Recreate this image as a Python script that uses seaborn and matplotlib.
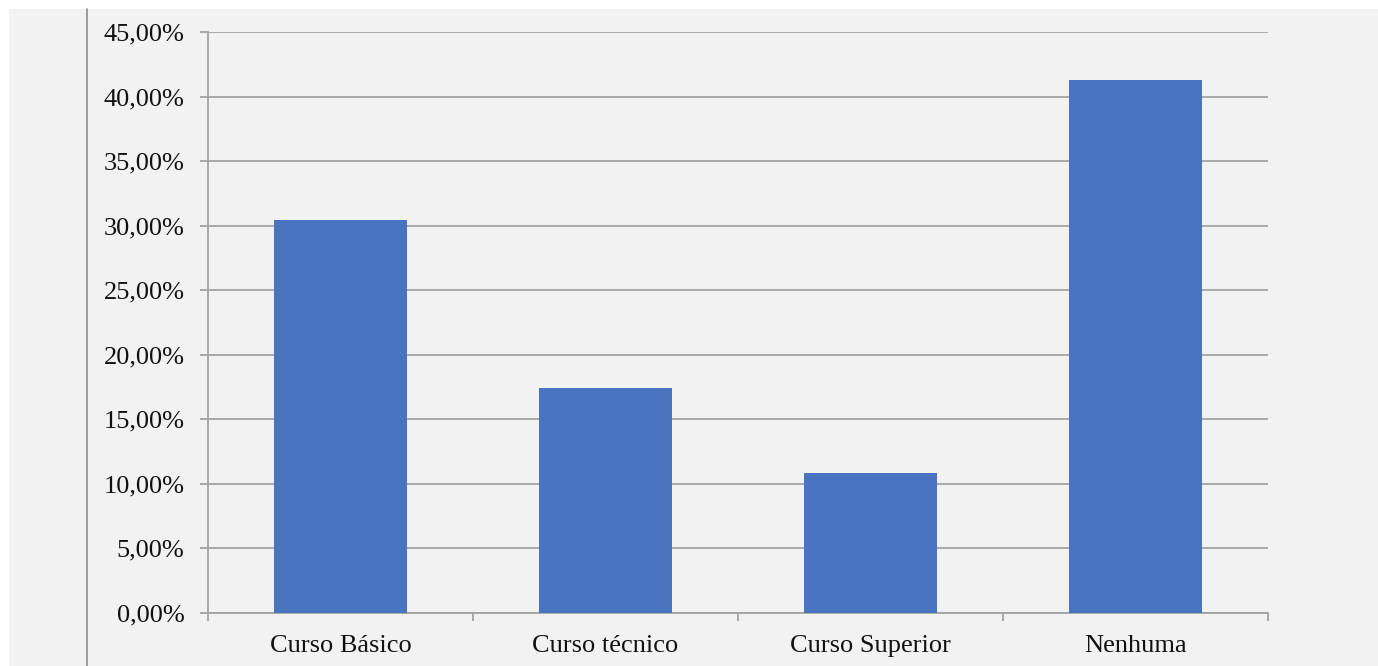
import matplotlib.pyplot as plt
import pandas as pd
import seaborn as sns
from matplotlib.lines import Line2D
from matplotlib.patches import Rectangle
from matplotlib.ticker import FixedLocator, FuncFormatter

categories = ["Curso Básico", "Curso técnico", "Curso Superior", "Nenhuma"]
percentages = [30.43, 17.39, 10.87, 41.30]
y_ticks = [0, 5, 10, 15, 20, 25, 30, 35, 40, 45]

BG = "#f2f2f2"
GRID = "#a3a3a3"
BAR = "#4874c0"

sns.set_theme(style="white")
plt.rcParams["font.family"] = ["Liberation Serif", "DejaVu Serif"]

df = pd.DataFrame({"categoria": categories, "pct": percentages})

fig = plt.figure(figsize=(13.78, 6.66), dpi=100, facecolor="white")
fig.add_artist(Rectangle((9 / 1378, 0), 1, 1 - 9 / 666, transform=fig.transFigure,
                         facecolor=BG, edgecolor="none", zorder=0))
fig.add_artist(Line2D([87 / 1378, 87 / 1378], [0, 1 - 9 / 666], transform=fig.transFigure,
                      color="#8c8c8c", linewidth=1.2, zorder=1))

ax = fig.add_axes([208 / 1378, 1 - 613 / 666, 1060 / 1378, 581 / 666])
ax.set_facecolor(BG)

sns.barplot(data=df, x="categoria", y="pct", color=BAR, width=0.5,
            saturation=1, linewidth=0, ax=ax, zorder=3)

ax.set_ylim(0, 45)
ax.set_xlim(-0.5, 3.5)
ax.set_yticks(y_ticks)
ax.yaxis.set_major_formatter(FuncFormatter(lambda v, _: f"{v:.2f}%".replace(".", ",")))
ax.grid(axis="y", color=GRID, linewidth=1.3, zorder=0)
ax.set_axisbelow(True)

ax.set_xlabel("")
ax.set_ylabel("")

for side in ["top", "right"]:
    ax.spines[side].set_visible(False)
for side in ["left", "bottom"]:
    ax.spines[side].set_color(GRID)
    ax.spines[side].set_linewidth(1.3)

ax.tick_params(axis="y", which="major", direction="out", length=6, width=1.3,
               color=GRID, left=True, pad=11, labelsize=19, labelcolor="#111111")
ax.tick_params(axis="x", which="major", length=0, pad=16, labelsize=19,
               labelcolor="#111111")
ax.xaxis.set_minor_locator(FixedLocator([-0.5, 0.5, 1.5, 2.5, 3.5]))
ax.tick_params(axis="x", which="minor", direction="out", length=6, width=1.3,
               color=GRID, bottom=True)

fig.savefig("out.png", dpi=100, facecolor=fig.get_facecolor())
